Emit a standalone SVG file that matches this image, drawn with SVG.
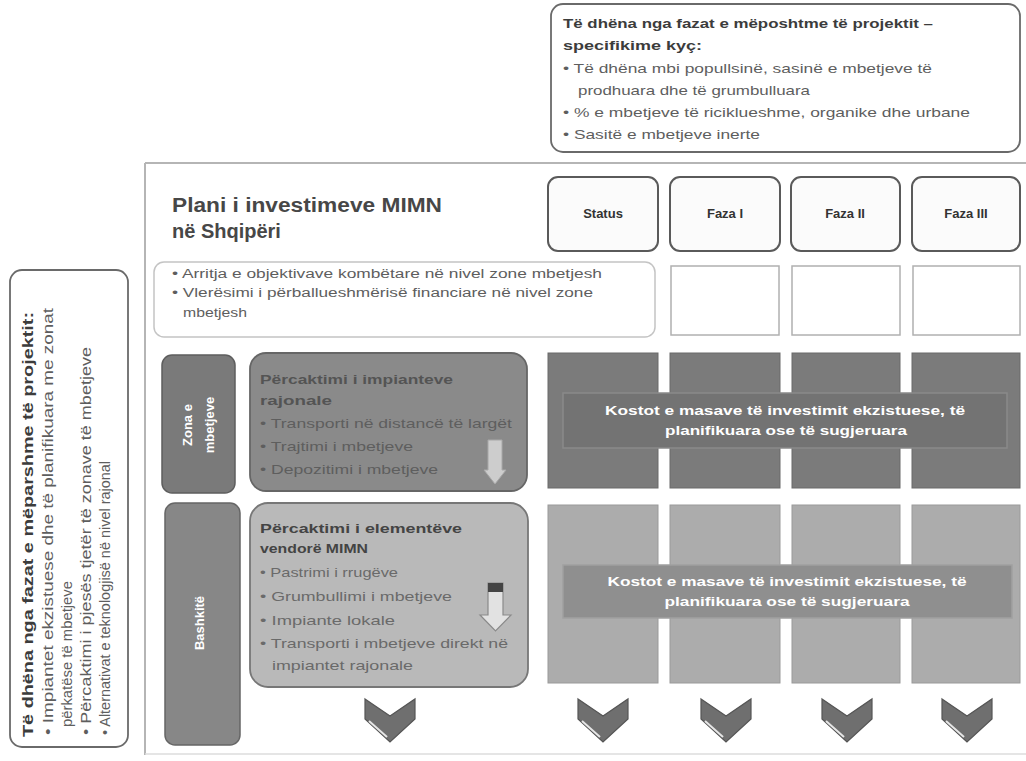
<svg xmlns="http://www.w3.org/2000/svg" width="1026" height="761" viewBox="0 0 1026 761">
<style>
text{font-family:"Liberation Sans",Arial,"DejaVu Sans",sans-serif}
.hd{font-weight:bold;fill:#3c3c3c}
.bl{fill:#5e5e5e}
.callout{fill:#fff;stroke:#6a6a6a;stroke-width:1.8}
.phase{fill:#fbfbfb;stroke:#5a5a5a;stroke-width:2}
.phl{font-size:13px;font-weight:bold;fill:#333;text-anchor:middle}
.empty{fill:#fff;stroke:#b0b0b0;stroke-width:1.5}
.c1{fill:#7b7b7b;stroke:#6a6a6a;stroke-width:1}
.c2{fill:#acacac;stroke:#9a9a9a;stroke-width:1}
.band1{fill:#737373;stroke:#8a8a8a;stroke-width:1.5}
.band2{fill:#8f8f8f;stroke:#a0a0a0;stroke-width:1.5}
.bandt{font-size:13px;font-weight:bold;fill:#fff;text-anchor:middle}
.vlab{font-size:13px;font-weight:bold;fill:#fff;text-anchor:middle}
.chev{fill:#6f6f6f;stroke:#555;stroke-width:1.2}
.chevhl{stroke:#e6e6e6;stroke-width:2;fill:none}
</style>
<rect width="1026" height="761" fill="#fff"/>

<g id="panel">
<line x1="145" y1="163" x2="1026" y2="163" stroke="#b5b5b5" stroke-width="2"/>
<line x1="145" y1="163" x2="145" y2="755" stroke="#b5b5b5" stroke-width="2"/>
<line x1="145" y1="754" x2="1026" y2="754" stroke="#dcdcdc" stroke-width="1.5"/>
</g>

<g id="callout-top">
<rect class="callout" x="551" y="4" width="469" height="148" rx="12"/>
<text class="hd" x="563" y="28" font-size="13.5" textLength="370" lengthAdjust="spacingAndGlyphs">Të dhëna nga fazat e mëposhtme të projektit –</text>
<text class="hd" x="563" y="50" font-size="13.5" textLength="139" lengthAdjust="spacingAndGlyphs">specifikime kyç:</text>
<text class="bl" x="563" y="73" font-size="13.5" textLength="369" lengthAdjust="spacingAndGlyphs">• Të dhëna mbi popullsinë, sasinë e mbetjeve të</text>
<text class="bl" x="578" y="95" font-size="13.5" textLength="232" lengthAdjust="spacingAndGlyphs">prodhuara dhe të grumbulluara</text>
<text class="bl" x="563" y="117" font-size="13.5" textLength="407" lengthAdjust="spacingAndGlyphs">• % e mbetjeve të riciklueshme, organike dhe urbane</text>
<text class="bl" x="563" y="139" font-size="13.5" textLength="197" lengthAdjust="spacingAndGlyphs">• Sasitë e mbetjeve inerte</text>
</g>

<g id="callout-left">
<rect class="callout" x="10" y="270" width="118" height="477" rx="12"/>
<text class="hd" font-size="14" transform="translate(33,737) rotate(-90)" textLength="425" lengthAdjust="spacingAndGlyphs">Të dhëna nga fazat e mëparshme të projektit:</text>
<text class="bl" font-size="14" transform="translate(53,735) rotate(-90)" textLength="427" lengthAdjust="spacingAndGlyphs">• Impiantet ekzistuese dhe të planifikuara me zonat</text>
<text class="bl" font-size="14" transform="translate(72,727) rotate(-90)" textLength="146" lengthAdjust="spacingAndGlyphs">përkatëse të mbetjeve</text>
<text class="bl" font-size="14" transform="translate(91,735) rotate(-90)" textLength="388" lengthAdjust="spacingAndGlyphs">• Përcaktimi i pjesës tjetër të zonave të mbetjeve</text>
<text class="bl" font-size="14" transform="translate(110,735) rotate(-90)" textLength="274" lengthAdjust="spacingAndGlyphs">• Alternativat e teknologjisë në nivel rajonal</text>
</g>

<g id="title">
<text x="172" y="212" font-size="20" font-weight="bold" fill="#474747" textLength="270" lengthAdjust="spacingAndGlyphs">Plani i investimeve MIMN</text>
<text x="172" y="238" font-size="20" font-weight="bold" fill="#474747">në Shqipëri</text>
</g>

<g id="header-status"><rect class="phase" x="548" y="177" width="110" height="74" rx="10"/><text class="phl" x="603" y="218">Status</text></g>
<g id="header-faza1"><rect class="phase" x="670" y="177" width="110" height="74" rx="10"/><text class="phl" x="725" y="218">Faza I</text></g>
<g id="header-faza2"><rect class="phase" x="791" y="177" width="109" height="74" rx="10"/><text class="phl" x="845" y="218">Faza II</text></g>
<g id="header-faza3"><rect class="phase" x="912" y="177" width="108" height="74" rx="10"/><text class="phl" x="966" y="218">Faza III</text></g>

<g id="objectives">
<rect x="154" y="262" width="501" height="75" rx="10" fill="#fff" stroke="#c4c4c4" stroke-width="1.5"/>
<text class="bl" x="172" y="278" font-size="12.5" textLength="430" lengthAdjust="spacingAndGlyphs">• Arritja e objektivave kombëtare në nivel zone mbetjesh</text>
<text class="bl" x="172" y="297" font-size="12.5" textLength="421" lengthAdjust="spacingAndGlyphs">• Vlerësimi i përballueshmërisë financiare në nivel zone</text>
<text class="bl" x="183" y="317" font-size="12.5" textLength="64" lengthAdjust="spacingAndGlyphs">mbetjesh</text>
</g>
<g id="objectives-faza">
<rect class="empty" x="671" y="266" width="108" height="69"/>
<rect class="empty" x="792" y="266" width="108" height="69"/>
<rect class="empty" x="913" y="266" width="107" height="69"/>
</g>

<g id="zona">
<rect x="162" y="355" width="73" height="138" rx="10" fill="#7a7a7a" stroke="#5e5e5e" stroke-width="1.5"/>
<text class="vlab" transform="translate(192,425) rotate(-90)">Zona e</text>
<text class="vlab" transform="translate(214,425) rotate(-90)">mbetjeve</text>
</g>
<g id="impiante-rajonale">
<rect x="250" y="353" width="277" height="138" rx="16" fill="#8a8a8a" stroke="#666" stroke-width="1.8"/>
<text x="260" y="384" font-size="13" font-weight="bold" fill="#545454" textLength="193" lengthAdjust="spacingAndGlyphs">Përcaktimi i impianteve</text>
<text x="260" y="405" font-size="13" font-weight="bold" fill="#545454" textLength="72" lengthAdjust="spacingAndGlyphs">rajonale</text>
<text x="260" y="428" font-size="13" fill="#5e5e5e" textLength="252" lengthAdjust="spacingAndGlyphs">• Transporti në distancë të largët</text>
<text x="260" y="451" font-size="13" fill="#5e5e5e" textLength="153" lengthAdjust="spacingAndGlyphs">• Trajtimi i mbetjeve</text>
<text x="260" y="474" font-size="13" fill="#5e5e5e" textLength="178" lengthAdjust="spacingAndGlyphs">• Depozitimi i mbetjeve</text>
</g>

<g id="bashkite">
<rect x="165" y="503" width="75" height="242" rx="10" fill="#878787" stroke="#666" stroke-width="1.5"/>
<text class="vlab" font-weight="normal" transform="translate(204,623) rotate(-90)">Bashkitë</text>
</g>
<g id="elemente-vendore">
<rect x="250" y="503" width="278" height="184" rx="18" fill="#b9b9b9" stroke="#777" stroke-width="1.8"/>
<text x="260" y="533" font-size="13" font-weight="bold" fill="#444" textLength="202" lengthAdjust="spacingAndGlyphs">Përcaktimi i elementëve</text>
<text x="260" y="553" font-size="13" font-weight="bold" fill="#444" textLength="108" lengthAdjust="spacingAndGlyphs">vendorë MIMN</text>
<text x="260" y="577" font-size="13" fill="#6a6a6a" textLength="138" lengthAdjust="spacingAndGlyphs">• Pastrimi i rrugëve</text>
<text x="260" y="601" font-size="13" fill="#6a6a6a" textLength="192" lengthAdjust="spacingAndGlyphs">• Grumbullimi i mbetjeve</text>
<text x="260" y="625" font-size="13" fill="#6a6a6a" textLength="135" lengthAdjust="spacingAndGlyphs">• Impiante lokale</text>
<text x="260" y="648" font-size="13" fill="#6a6a6a" textLength="248" lengthAdjust="spacingAndGlyphs">• Transporti i mbetjeve direkt në</text>
<text x="272" y="670" font-size="13" fill="#6a6a6a" textLength="141" lengthAdjust="spacingAndGlyphs">impiantet rajonale</text>
</g>

<g id="grid-row1">
<rect class="c1" x="548" y="353" width="110" height="135"/>
<rect class="c1" x="670" y="353" width="110" height="135"/>
<rect class="c1" x="792" y="353" width="108" height="135"/>
<rect class="c1" x="912" y="353" width="108" height="135"/>
<rect class="band1" x="563" y="393" width="444" height="55"/>
<text class="bandt" x="785" y="415" textLength="360" lengthAdjust="spacingAndGlyphs">Kostot e masave të investimit ekzistuese, të</text>
<text class="bandt" x="786" y="435" textLength="242" lengthAdjust="spacingAndGlyphs">planifikuara ose të sugjeruara</text>
</g>
<g id="grid-row2">
<rect class="c2" x="548" y="505" width="110" height="178"/>
<rect class="c2" x="670" y="505" width="110" height="178"/>
<rect class="c2" x="792" y="505" width="108" height="178"/>
<rect class="c2" x="912" y="505" width="108" height="178"/>
<rect class="band2" x="563" y="565" width="449" height="53"/>
<text class="bandt" x="787" y="586" textLength="359" lengthAdjust="spacingAndGlyphs">Kostot e masave të investimit ekzistuese, të</text>
<text class="bandt" x="787" y="606" textLength="245" lengthAdjust="spacingAndGlyphs">planifikuara ose të sugjeruara</text>
</g>

<g id="connectors">
<path d="M488,440 H502 V470 H506 L495,484 L484,470 H488 Z" fill="#cdcdcd" stroke="#a8a8a8" stroke-width="1"/>
<path d="M488,583 H503 V615 H511 L495.5,631 L480,615 H488 Z" fill="#e2e2e2" stroke="#8a8a8a" stroke-width="1.2"/>
<rect x="488" y="583" width="15" height="9" fill="#444"/>
<g transform="translate(365,694)"><path class="chev" d="M0,5 L25,22 L50,5 V25 L25,48 L0,25 Z"/><path class="chevhl" d="M4,27 L22,43"/></g>
<g transform="translate(578,694)"><path class="chev" d="M0,5 L25,22 L50,5 V25 L25,48 L0,25 Z"/><path class="chevhl" d="M4,27 L22,43"/></g>
<g transform="translate(701,694)"><path class="chev" d="M0,5 L25,22 L50,5 V25 L25,48 L0,25 Z"/><path class="chevhl" d="M4,27 L22,43"/></g>
<g transform="translate(822,694)"><path class="chev" d="M0,5 L25,22 L50,5 V25 L25,48 L0,25 Z"/><path class="chevhl" d="M4,27 L22,43"/></g>
<g transform="translate(942,694)"><path class="chev" d="M0,5 L25,22 L50,5 V25 L25,48 L0,25 Z"/><path class="chevhl" d="M4,27 L22,43"/></g>
</g>
</svg>
